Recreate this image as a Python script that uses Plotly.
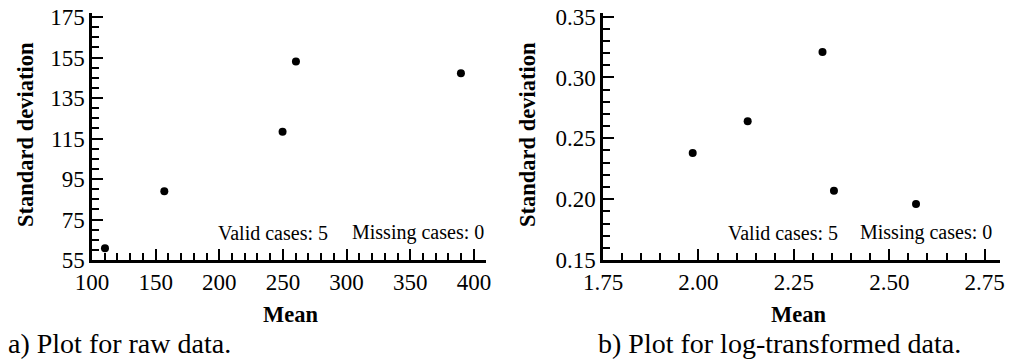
import plotly.graph_objects as go

# Data
raw_mean = [110.2, 156.8, 249.7, 260.2, 389.8]
raw_sd = [60.8, 88.9, 118.4, 153.1, 147.2]
log_mean = [1.985, 2.129, 2.325, 2.355, 2.570]
log_sd = [0.238, 0.264, 0.321, 0.207, 0.196]

W, H = 1015, 360
FONT = "Liberation Serif, Times New Roman, serif"

def px_x(p):
    return p / W

def px_y(p):
    return (H - p) / H

fig = go.Figure()
fig.add_trace(go.Scatter(x=raw_mean, y=raw_sd, mode="markers",
                         marker=dict(color="black", size=8),
                         xaxis="x", yaxis="y", cliponaxis=False, showlegend=False))
fig.add_trace(go.Scatter(x=log_mean, y=log_sd, mode="markers",
                         marker=dict(color="black", size=8),
                         xaxis="x2", yaxis="y2", cliponaxis=False, showlegend=False))

ydom = [px_y(260), px_y(13)]
common = dict(showline=True, linecolor="black", linewidth=2.5, ticks="inside",
              tickcolor="black", tickwidth=2, ticklen=11, showgrid=False,
              zeroline=False, automargin=False,
              tickfont=dict(family=FONT, size=23, color="black"))

def minor(dt, t0):
    return dict(ticks="inside", dtick=dt, tick0=t0, ticklen=7, tickwidth=2, tickcolor="black")

fig.update_layout(
    template="none",
    width=W, height=H, margin=dict(l=0, r=0, t=0, b=0, pad=0, autoexpand=False),
    paper_bgcolor="white", plot_bgcolor="white", showlegend=False,
    xaxis=dict(domain=[px_x(92), px_x(486)], range=[100, 409.5], tick0=100, dtick=50,
               anchor="y", minor=minor(10, 100), **common),
    yaxis=dict(domain=ydom, range=[55, 177], tick0=55, dtick=20, anchor="x",
               minor=minor(5, 55), **common),
    xaxis2=dict(domain=[px_x(603), px_x(1000)], range=[1.75, 2.79], tick0=1.75, dtick=0.25,
                tickformat=".2f", anchor="y2", minor=minor(0.05, 1.75), **common),
    yaxis2=dict(domain=ydom, range=[0.15, 0.353], tick0=0.15, dtick=0.05, tickformat=".2f",
                anchor="x2", minor=minor(0.01, 0.15), **common),
)

ann = []
def text(x, y, s, size=21, bold=False, angle=0, xanchor="center"):
    ann.append(dict(x=px_x(x), y=px_y(y), xref="paper", yref="paper", text=("<b>%s</b>" % s) if bold else s,
                    showarrow=False, textangle=angle, xanchor=xanchor, yanchor="middle",
                    font=dict(family=FONT, size=size, color="black")))

text(25, 135, "Standard deviation", size=22.5, bold=True, angle=-90)
text(527, 135, "Standard deviation", size=22.5, bold=True, angle=-90)
text(290, 314, "Mean", size=22.5, bold=True)
text(798, 314, "Mean", size=22.5, bold=True)
text(330, 233, "Valid cases: 5", size=20, xanchor="right")
text(486, 233, "Missing cases: 0", size=20, xanchor="right")
text(840, 233, "Valid cases: 5", size=20, xanchor="right")
text(994, 233, "Missing cases: 0", size=20, xanchor="right")
text(6, 343, "a) Plot for raw data.", size=28, xanchor="left")
text(779, 343, "b) Plot for log-transformed data.", size=28)
fig.update_layout(annotations=ann)

fig.write_html("out.html", config={"displayModeBar": False},
               post_script="document.body.style.margin='0';document.body.style.overflow='hidden';")
